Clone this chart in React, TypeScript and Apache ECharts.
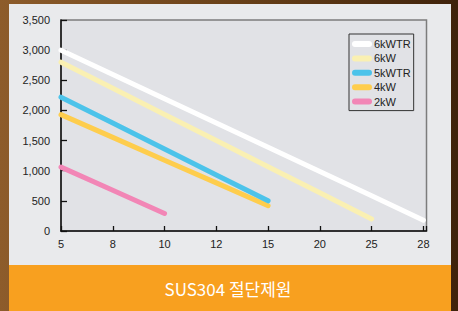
import React, { useEffect, useRef } from "react";
import * as echarts from "echarts";

const categories = ["5", "8", "10", "12", "15", "20", "25", "28"];
const seriesNames = ["6kWTR", "6kW", "5kWTR", "4kW", "2kW"];
// values per category index (lines are straight on the categorical scale)
const v6kWTR = [3000, 2597, 2194, 1791, 1389, 986, 583, 180];
const v6kW = [2800, 2367, 1933, 1500, 1067, 633, 200];
const v5kWTR = [2220, 1790, 1360, 930, 500];
const v4kW = [1930, 1553, 1175, 798, 420];
const v2kW = [1060, 675, 290];
const colors = ["#ffffff", "#faf0b2", "#4cc3ea", "#fecd4d", "#f286b6"];
const yTicks = [0, 500, 1000, 1500, 2000, 2500, 3000, 3500];
const titleText = "SUS304 절단제원";

export default function App() {
  const ref = useRef<HTMLDivElement>(null);
  useEffect(() => {
    if (!ref.current) return;
    const chart = echarts.init(ref.current, undefined, { renderer: "svg" });
    const all = [v6kWTR, v6kW, v5kWTR, v4kW, v2kW];
    const font = "Liberation Sans, Arial, sans-serif";
    chart.setOption({
      animation: false,
      backgroundColor: {
        type: "linear", x: 0, y: 0, x2: 1, y2: 0,
        colorStops: [
          { offset: 0, color: "#8d5c2b" },
          { offset: 0.5, color: "#6a4118" },
          { offset: 1, color: "#3f220b" },
        ],
      },
      graphic: [
        { type: "rect", z: -10, shape: { x: 9, y: 4, width: 442, height: 261 }, style: { fill: "#e9eaec" } },
        { type: "rect", z: -10, shape: { x: 9, y: 265, width: 442, height: 46 }, style: { fill: "#f8a01f" } },
        {
          type: "text", z: 10, x: 228, y: 288,
          style: { text: titleText, fill: "#ffffff", font: "17px 'Noto Sans CJK KR', sans-serif", textAlign: "center", textVerticalAlign: "middle" },
        },
      ],
      grid: {
        left: 61, right: 31.5, top: 20, bottom: 80,
        show: true, backgroundColor: "#e1e2e6", borderColor: "#7c7c7c", borderWidth: 1.5,
      },
      legend: {
        orient: "vertical", left: 349, top: 34,
        data: seriesNames,
        backgroundColor: "#e1e2e6",
        borderColor: "#333333", borderWidth: 1,
        padding: [4, 3, 3, 3],
        itemWidth: 20, itemHeight: 6, itemGap: 2.4,
        icon: "path://M3,0 L17,0 A3,3 0 0 1 17,6 L3,6 A3,3 0 0 1 3,0 Z",
        textStyle: { fontSize: 11, color: "#222", fontFamily: font, lineHeight: 12, padding: [0, 0, 0, -3] },
      },
      xAxis: {
        type: "value", min: 0, max: 7.06, interval: 1,
        axisLine: { show: true, lineStyle: { color: "#111", width: 1.5 } },
        axisTick: { show: true, inside: true, length: 5, lineStyle: { color: "#111", width: 1.3 } },
        axisLabel: {
          color: "#222", fontSize: 11, fontFamily: font, margin: 7,
          formatter: (v: number) => (Number.isInteger(v) && categories[v] !== undefined ? categories[v] : ""),
        },
        splitLine: { show: false },
      },
      yAxis: {
        type: "value", min: yTicks[0], max: yTicks[yTicks.length - 1], interval: 500,
        axisLine: { show: true, lineStyle: { color: "#111", width: 1.5 } },
        axisTick: { show: true, inside: true, length: 6, lineStyle: { color: "#111", width: 1.3 } },
        axisLabel: {
          color: "#222", fontSize: 11, fontFamily: font, margin: 11,
          formatter: (v: number) => v.toLocaleString("en-US"),
        },
        splitLine: { show: false },
      },
      series: seriesNames.map((name, si) => ({
        name, type: "line", showSymbol: false, symbol: "none",
        data: all[si].map((v, i) => [i, v]),
        lineStyle: { color: colors[si], width: 5, cap: "round" },
        itemStyle: { color: colors[si] },
        z: 5 - si,
      })),
    });
    return () => chart.dispose();
  }, []);
  return <div ref={ref} style={{ position: "fixed", left: 0, top: 0, width: 458, height: 311 }} />;
}
